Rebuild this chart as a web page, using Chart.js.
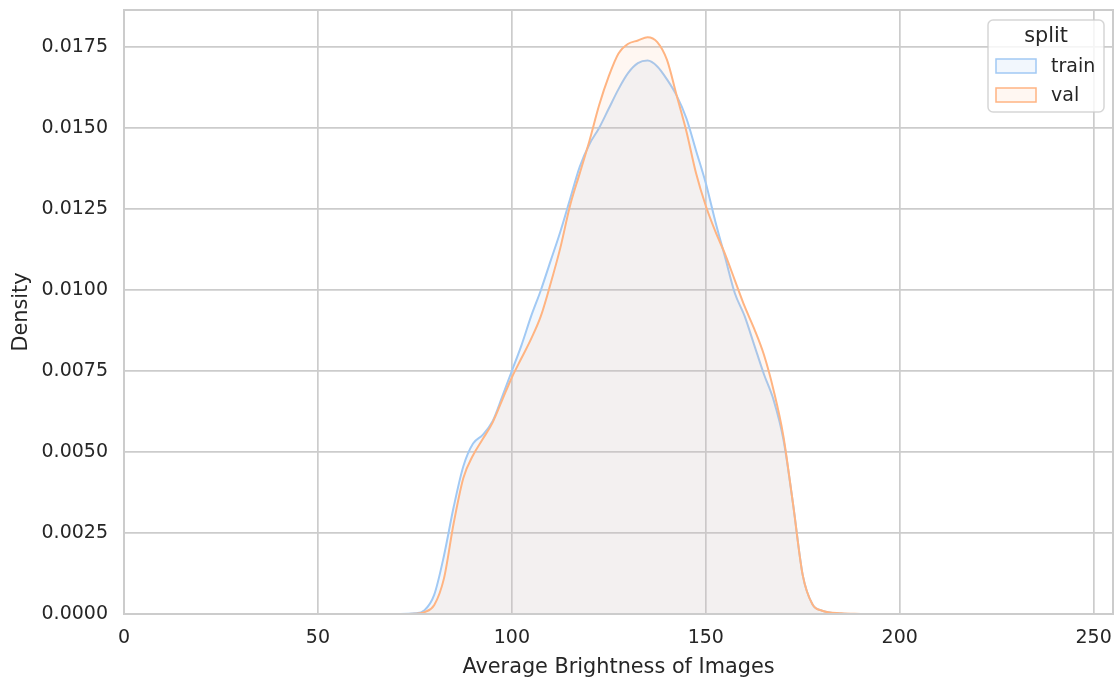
<!DOCTYPE html>
<html>
<head>
<meta charset="utf-8">
<script src="https://cdn.jsdelivr.net/npm/chart.js@4/dist/chart.umd.min.js"></script>
<style>
  html, body { margin: 0; padding: 0; background: #fff; }
  #wrap { width: 1117px; height: 680px; }
</style>
</head>
<body>
<div id="wrap"><canvas id="c" width="1117" height="680"></canvas></div>
<script>
// KDE of average image brightness
const brightness = [70, 75, 77.5, 80, 82.5, 85, 87.5, 90, 92.5, 95, 97.5, 100, 102.5, 105, 107.5, 110,
    112.5, 115, 117.5, 120, 122.5, 125, 127.5, 130, 132.5, 135, 137.5, 140, 142.5, 145, 147.5, 150,
    152.5, 155, 157.5, 160, 162.5, 165, 167.5, 170, 172.5, 175, 177.5, 180, 185, 190]
const trainDensity = [0, 0.00002, 0.00012, 0.0006, 0.0018, 0.0033, 0.00456, 0.00526, 0.00553, 0.00594,
    0.0067, 0.0075, 0.0083, 0.0092, 0.0100, 0.0109, 0.0118, 0.0128, 0.0138, 0.0145, 0.0150, 0.0156,
    0.0162, 0.0167, 0.0170, 0.01708, 0.0169, 0.0165, 0.0160, 0.0153, 0.0143, 0.0133, 0.0121, 0.0110,
    0.0099, 0.0092, 0.0083, 0.0074, 0.0066, 0.0054, 0.0034, 0.0012, 0.0003, 0.0001, 0.00001, 0]
const valDensity = [0, 0.00001, 0.00006, 0.00028, 0.0011, 0.0028, 0.0042, 0.0049, 0.0054, 0.0059,
    0.0066, 0.0073, 0.0079, 0.0085, 0.0092, 0.0102, 0.0113, 0.0126, 0.0136, 0.0146, 0.0157, 0.0166,
    0.0173, 0.0176, 0.0177, 0.0178, 0.01765, 0.0171, 0.0160, 0.0149, 0.0136, 0.0126, 0.0118, 0.0111,
    0.0103, 0.0095, 0.0088, 0.0080, 0.0069, 0.0055, 0.0034, 0.0012, 0.0003, 0.0001, 0.00002, 0]

const xTicks = [0, 50, 100, 150, 200, 250]
const yTicks = [0, 0.0025, 0.005, 0.0075, 0.01, 0.0125, 0.015, 0.0175]

const splitNames = ['train', 'val']
const lineColors = ['#a1c9f4', '#ffb482']
const fillColors = ['rgba(161,201,244,0.14)', 'rgba(255,180,130,0.10)']

const textColor = '#262626'
const gridColor = '#cccccc'
const family = '"DejaVu Sans", sans-serif'

const toPoints = ys => brightness.map((x, i) => ({ x: x, y: ys[i] }))

// pin the plot box: no extra room for half tick labels
const noPad = s => { s.paddingTop = 0; s.paddingBottom = 0; s.paddingLeft = 0; s.paddingRight = 0 }

// axes frame (all four spines) + legend box in the upper right
const framePlugin = {
    id: 'frame',
    afterDatasetsDraw(chart) {
        const { ctx, chartArea: a } = chart
        ctx.save()
        ctx.strokeStyle = gridColor
        ctx.lineWidth = 2
        ctx.strokeRect(a.left, a.top, a.right - a.left, a.bottom - a.top)
        ctx.restore()
    },
    afterDraw(chart) {
        const { ctx } = chart
        const bx = 988, by = 20, bw = 116, bh = 92
        ctx.save()
        ctx.beginPath()
        ctx.roundRect(bx, by, bw, bh, 5)
        ctx.fillStyle = 'rgba(255,255,255,0.8)'
        ctx.fill()
        ctx.strokeStyle = 'rgba(204,204,204,0.8)'
        ctx.lineWidth = 1.5
        ctx.stroke()

        ctx.fillStyle = textColor
        ctx.font = '20.8px ' + family
        ctx.textAlign = 'center'
        ctx.textBaseline = 'middle'
        ctx.fillText('split', bx + bw / 2, 37)

        chart.data.datasets.forEach((ds, i) => {
            const cy = 66 + i * 29
            ctx.fillStyle = '#fff'
            ctx.fillRect(996, cy - 7, 40, 14)
            ctx.fillStyle = ds.backgroundColor
            ctx.fillRect(996, cy - 7, 40, 14)
            ctx.strokeStyle = ds.borderColor
            ctx.lineWidth = 1.5
            ctx.strokeRect(996, cy - 7, 40, 14)
            ctx.fillStyle = textColor
            ctx.font = '19px ' + family
            ctx.textAlign = 'left'
            ctx.fillText(ds.label, 1051, cy + 1)
        })
        ctx.restore()
    }
}

const chart = new Chart(document.getElementById('c'), {
    type: 'line',
    data: {
        datasets: [
            {
                label: splitNames[0],
                data: toPoints(trainDensity),
                borderColor: lineColors[0],
                backgroundColor: fillColors[0],
                borderWidth: 2,
                fill: 'origin',
                pointRadius: 0,
                cubicInterpolationMode: 'monotone',
                order: 1
            },
            {
                label: splitNames[1],
                data: toPoints(valDensity),
                borderColor: lineColors[1],
                backgroundColor: fillColors[1],
                borderWidth: 2,
                fill: 'origin',
                pointRadius: 0,
                cubicInterpolationMode: 'monotone',
                order: 0
            }
        ]
    },
    options: {
        responsive: false,
        animation: false,
        layout: { padding: { left: 0, right: 4, top: 10, bottom: 0 } },
        plugins: {
            legend: { display: false },
            tooltip: { enabled: false }
        },
        scales: {
            x: {
                type: 'linear',
                min: 0,
                max: 255,
                afterBuildTicks: s => { s.ticks = xTicks.map(v => ({ value: v })) },
                afterFit: s => { s.height = 66; noPad(s) },
                grid: { color: gridColor, lineWidth: 1.7, drawTicks: false },
                border: { display: false },
                ticks: {
                    color: textColor,
                    font: { family: family, size: 19 },
                    padding: 13,
                    maxRotation: 0,
                    callback: v => String(v)
                },
                title: {
                    display: true,
                    text: 'Average Brightness of Images',
                    color: textColor,
                    font: { family: family, size: 20.8 },
                    padding: { top: 0, bottom: 0 }
                }
            },
            y: {
                type: 'linear',
                min: 0,
                max: 0.018642,
                afterBuildTicks: s => { s.ticks = yTicks.map(v => ({ value: v })) },
                afterFit: s => { s.width = 124; noPad(s) },
                grid: { color: gridColor, lineWidth: 1.7, drawTicks: false },
                border: { display: false },
                ticks: {
                    color: textColor,
                    font: { family: family, size: 19 },
                    padding: 16,
                    callback: v => v.toFixed(4)
                },
                title: {
                    display: true,
                    text: 'Density',
                    color: textColor,
                    font: { family: family, size: 20.8 },
                    padding: { top: 9, bottom: 0 }
                }
            }
        }
    },
    plugins: [framePlugin]
})
</script>
</body>
</html>
